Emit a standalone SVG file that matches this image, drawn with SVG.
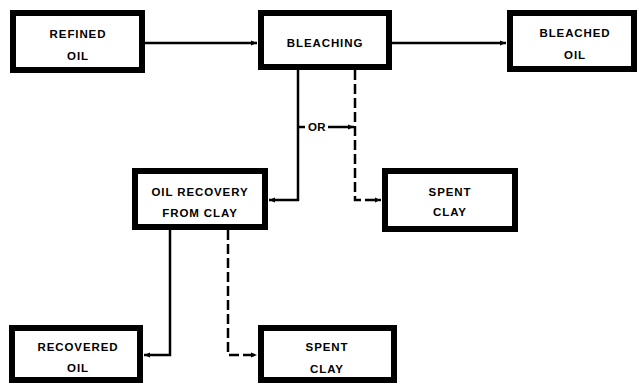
<svg xmlns="http://www.w3.org/2000/svg" width="639" height="386" viewBox="0 0 639 386">
<defs>
<style>
.box{fill:#fff;stroke:#000;stroke-width:6}
.t{font-family:"Liberation Sans",Arial,sans-serif;font-size:11.5px;font-weight:bold;letter-spacing:0.9px;text-anchor:middle;fill:#000}
.c{fill:none;stroke:#000;stroke-width:2.5}
.d{stroke-dasharray:10,4}
</style>
<marker id="ah" viewBox="0 0 10 10" refX="10" refY="5" markerWidth="11" markerHeight="6" markerUnits="userSpaceOnUse" orient="auto">
<path d="M0,1 L10,5 L0,9 z" fill="#000"/>
</marker>
</defs>
<rect width="639" height="386" fill="#fff"/>
<g id="connectors">
<path class="c" d="M145,43 H257" marker-end="url(#ah)"/>
<path class="c" d="M392,43 H506" marker-end="url(#ah)"/>
<path class="c" d="M298,70 V200 H269" marker-end="url(#ah)"/>
<path class="c d" d="M355,70 V200 H381" marker-end="url(#ah)"/>
<path class="c" d="M298,127 H305"/>
<text class="t" x="317" y="131" style="letter-spacing:0.3px">OR</text>
<path class="c" d="M328,127 H354" marker-end="url(#ah)"/>
<path class="c" d="M170,230 V355 H144" marker-end="url(#ah)"/>
<path class="c d" d="M228,230 V355 H257" marker-end="url(#ah)"/>
</g>
<g id="refined-oil">
<rect class="box" x="13" y="13" width="129" height="57"/>
<text class="t" x="78" y="38">REFINED</text>
<text class="t" x="78" y="60">OIL</text>
</g>
<g id="bleaching">
<rect class="box" x="261" y="13" width="128" height="54"/>
<text class="t" x="325" y="47">BLEACHING</text>
</g>
<g id="bleached-oil">
<rect class="box" x="510" y="13" width="124" height="56"/>
<text class="t" x="575" y="37">BLEACHED</text>
<text class="t" x="575" y="59">OIL</text>
</g>
<g id="oil-recovery">
<rect class="box" x="135" y="171" width="130" height="56"/>
<text class="t" x="200" y="196">OIL RECOVERY</text>
<text class="t" x="200" y="217">FROM CLAY</text>
</g>
<g id="spent-clay-1">
<rect class="box" x="385" y="171" width="130" height="58"/>
<text class="t" x="450" y="196">SPENT</text>
<text class="t" x="450" y="216">CLAY</text>
</g>
<g id="recovered-oil">
<rect class="box" x="12" y="328" width="128" height="52"/>
<text class="t" x="78" y="351">RECOVERED</text>
<text class="t" x="78" y="372">OIL</text>
</g>
<g id="spent-clay-2">
<rect class="box" x="261" y="328" width="133" height="52"/>
<text class="t" x="327" y="351">SPENT</text>
<text class="t" x="327" y="373">CLAY</text>
</g>
</svg>
